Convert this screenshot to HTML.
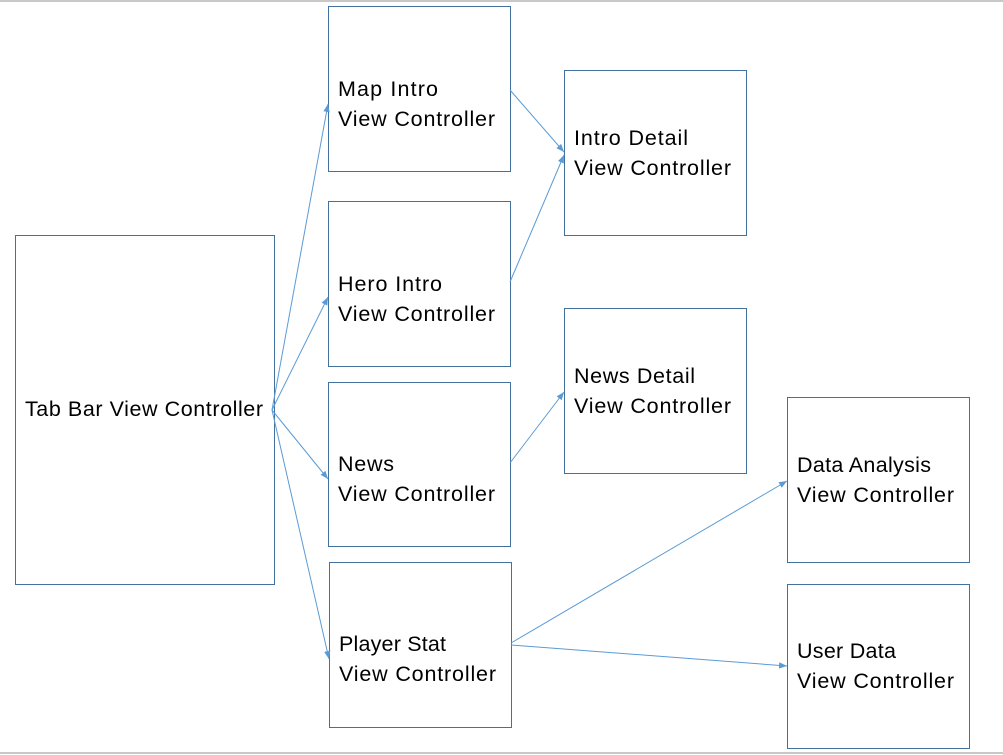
<!DOCTYPE html>
<html><head><style>
body{margin:0;background:#fff;}
svg{display:block}
text{font-family:"Liberation Sans",sans-serif;font-size:21.5px;fill:#000}
</style></head><body>
<svg width="1003" height="755" viewBox="0 0 1003 755">
<defs><marker id="a" viewBox="0 0 10 10" refX="10" refY="5" markerWidth="8" markerHeight="8" orient="auto"><path d="M0,1 L10,5 L0,9z" fill="#5B9BD5"/></marker></defs>
<line x1="0" y1="1" x2="1003" y2="1" stroke="#c8c8c8" stroke-width="2"/>
<line x1="0" y1="753" x2="1003" y2="753" stroke="#c8c8c8" stroke-width="2"/>
<g fill="none" stroke="#41719C" stroke-width="1">
<rect x="15.5" y="235.5" width="259" height="349"/>
<rect x="328.5" y="6.5" width="182" height="165"/>
<rect x="328.5" y="201.5" width="182" height="165"/>
<rect x="328.5" y="382.5" width="182" height="164"/>
<rect x="329.5" y="562.5" width="182" height="165"/>
<rect x="564.5" y="70.5" width="182" height="165"/>
<rect x="564.5" y="308.5" width="182" height="165"/>
<rect x="787.5" y="397.5" width="182" height="165"/>
<rect x="787.5" y="584.5" width="182" height="164"/>
</g>
<g stroke="#5B9BD5" stroke-width="1" marker-end="url(#a)">
<line x1="272" y1="410" x2="328" y2="104"/>
<line x1="272" y1="410" x2="328" y2="297"/>
<line x1="272" y1="410" x2="328" y2="479"/>
<line x1="272" y1="410" x2="329" y2="659"/>
<line x1="510" y1="90" x2="564" y2="152"/>
<line x1="510" y1="282" x2="564" y2="155"/>
<line x1="510" y1="463" x2="564" y2="392"/>
<line x1="511" y1="643" x2="787" y2="481"/>
<line x1="511" y1="645" x2="787" y2="666"/>
</g>
<g lengthAdjust="spacingAndGlyphs">
<text x="25" y="416" textLength="238">Tab Bar View Controller</text>
<text x="338" y="96" textLength="100">Map Intro</text><text x="338" y="126" textLength="157">View Controller</text>
<text x="338" y="291" textLength="104">Hero Intro</text><text x="338" y="321" textLength="157">View Controller</text>
<text x="338" y="471" textLength="56">News</text><text x="338" y="501" textLength="157">View Controller</text>
<text x="339" y="651" textLength="107">Player Stat</text><text x="339" y="681" textLength="157">View Controller</text>
<text x="574" y="145" textLength="114">Intro Detail</text><text x="574" y="175" textLength="157">View Controller</text>
<text x="574" y="383" textLength="121">News Detail</text><text x="574" y="413" textLength="157">View Controller</text>
<text x="797" y="472" textLength="134">Data Analysis</text><text x="797" y="502" textLength="157">View Controller</text>
<text x="797" y="658" textLength="99">User Data</text><text x="797" y="688" textLength="157">View Controller</text>
</g>
</svg>
</body></html>
